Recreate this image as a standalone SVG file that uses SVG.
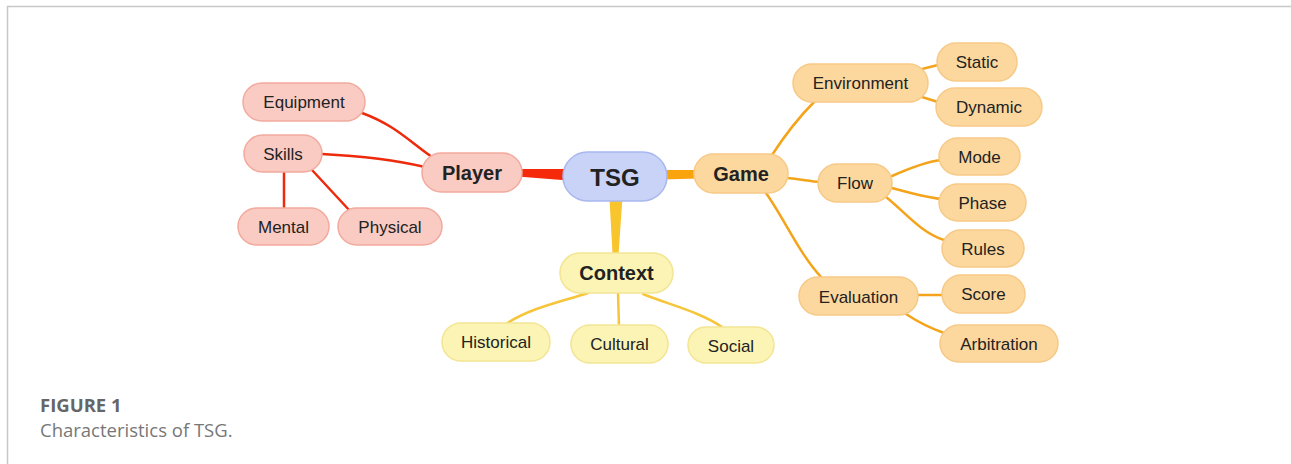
<svg xmlns="http://www.w3.org/2000/svg" width="1291" height="464" viewBox="0 0 1291 464">
<style>
.frame{fill:none;stroke:#c8c8c8;stroke-width:1.5}
.lr{fill:none;stroke:#ee2a0c;stroke-width:2.5;stroke-linecap:round}
.lo{fill:none;stroke:#f4a41a;stroke-width:2.5;stroke-linecap:round}
.ly{fill:none;stroke:#f6c53a;stroke-width:2.5;stroke-linecap:round}
.nr{fill:#f9cbc3;stroke:#f2aa9e;stroke-width:1.5}
.no{fill:#fcd89e;stroke:#f7c987;stroke-width:1.5}
.ny{fill:#fbf4b4;stroke:#f3e594;stroke-width:1.5}
.nb{fill:#c8d3f7;stroke:#a8b8ee;stroke-width:1.5}
text{font-family:"Liberation Sans",Arial,sans-serif;fill:#222;text-anchor:middle;dominant-baseline:central}
.t{font-size:17px}
.b{font-size:20px;font-weight:bold}
.cap{font-family:"Open Sans",Lato,sans-serif;text-anchor:start;dominant-baseline:auto;font-size:18.5px}
</style>
<path class="frame" d="M7.5 464 V6.5 H1291"/>
<g id="connectors">
<polygon points="500,169 600,169 600,183 500,175" fill="#f42a0a"/>
<polygon points="640,170 720,170 720,178 640,180" fill="#f9a30d"/>
<polygon points="609,190 623,190 618,262 613,262" fill="#f8c52c"/>
<path class="lr" d="M362 113 C395 125,410 142,432 157"/>
<path class="lr" d="M322 154 C360 156,395 160,425 167"/>
<path class="lr" d="M284 170 V210"/>
<path class="lr" d="M312 170 L350 211"/>
<path class="lo" d="M772 155 C785 135,798 118,815 101"/>
<path class="lo" d="M786 178 C800 179,808 181,820 182"/>
<path class="lo" d="M766 193 C785 220,800 255,822 278"/>
<path class="lo" d="M922 69 L938 65"/>
<path class="lo" d="M922 97 L938 102"/>
<path class="lo" d="M892 176 C910 168,925 162,941 160"/>
<path class="lo" d="M892 188 C910 193,925 197,941 199"/>
<path class="lo" d="M886 197 C905 212,920 232,944 240"/>
<path class="lo" d="M917 295 H943"/>
<path class="lo" d="M906 314 C918 322,930 328,944 333"/>
<path class="ly" d="M588 293 C560 302,530 308,506 324"/>
<path class="ly" d="M618 293 L619 326"/>
<path class="ly" d="M643 294 C670 305,700 312,722 327"/>
</g>
<g id="node-tsg"><rect class="nb" x="563" y="152" width="104" height="49" rx="24.5"/><text x="615" y="177" style="font-size:24px;font-weight:bold">TSG</text></g>
<g id="node-player"><rect class="nr" x="422" y="153" width="100" height="39" rx="19.5"/><text class="b" x="472" y="173">Player</text></g>
<g id="node-equipment"><rect class="nr" x="243" y="83" width="122" height="38" rx="19"/><text class="t" x="304" y="102">Equipment</text></g>
<g id="node-skills"><rect class="nr" x="244" y="135" width="78" height="37" rx="18.5"/><text class="t" x="283" y="154">Skills</text></g>
<g id="node-mental"><rect class="nr" x="238" y="208" width="91" height="37" rx="18.5"/><text class="t" x="283.5" y="227">Mental</text></g>
<g id="node-physical"><rect class="nr" x="338" y="208" width="104" height="37" rx="18.5"/><text class="t" x="390" y="227">Physical</text></g>
<g id="node-game"><rect class="no" x="694" y="154" width="94" height="39" rx="19.5"/><text class="b" x="741" y="174">Game</text></g>
<g id="node-environment"><rect class="no" x="793" y="64" width="135" height="38" rx="19"/><text class="t" x="860.5" y="83">Environment</text></g>
<g id="node-static"><rect class="no" x="937" y="43" width="80" height="38" rx="19"/><text class="t" x="977" y="62">Static</text></g>
<g id="node-dynamic"><rect class="no" x="936" y="88" width="106" height="38" rx="19"/><text class="t" x="989" y="107">Dynamic</text></g>
<g id="node-flow"><rect class="no" x="818" y="164" width="74" height="38" rx="19"/><text class="t" x="855" y="183">Flow</text></g>
<g id="node-mode"><rect class="no" x="939" y="138" width="81" height="37" rx="18.5"/><text class="t" x="979.5" y="157">Mode</text></g>
<g id="node-phase"><rect class="no" x="939" y="184" width="87" height="37" rx="18.5"/><text class="t" x="982.5" y="203">Phase</text></g>
<g id="node-rules"><rect class="no" x="942" y="230" width="82" height="37" rx="18.5"/><text class="t" x="983" y="249">Rules</text></g>
<g id="node-evaluation"><rect class="no" x="799" y="277" width="119" height="38" rx="19"/><text class="t" x="858.5" y="297">Evaluation</text></g>
<g id="node-score"><rect class="no" x="942" y="275" width="83" height="38" rx="19"/><text class="t" x="983.5" y="294">Score</text></g>
<g id="node-arbitration"><rect class="no" x="940" y="325" width="118" height="37" rx="18.5"/><text class="t" x="999" y="344">Arbitration</text></g>
<g id="node-context"><rect class="ny" x="560" y="253" width="113" height="40" rx="20"/><text class="b" x="616.5" y="273">Context</text></g>
<g id="node-historical"><rect class="ny" x="442" y="323" width="108" height="38" rx="19"/><text class="t" x="496" y="342">Historical</text></g>
<g id="node-cultural"><rect class="ny" x="571" y="325" width="97" height="38" rx="19"/><text class="t" x="619.5" y="344">Cultural</text></g>
<g id="node-social"><rect class="ny" x="688" y="327" width="86" height="36" rx="18"/><text class="t" x="731" y="346">Social</text></g>
<g id="caption">
<text class="cap" x="40" y="412" style="font-weight:bold;fill:#666">FIGURE 1</text>
<text class="cap" x="40" y="437" style="fill:#777">Characteristics of TSG.</text>
</g>
</svg>
